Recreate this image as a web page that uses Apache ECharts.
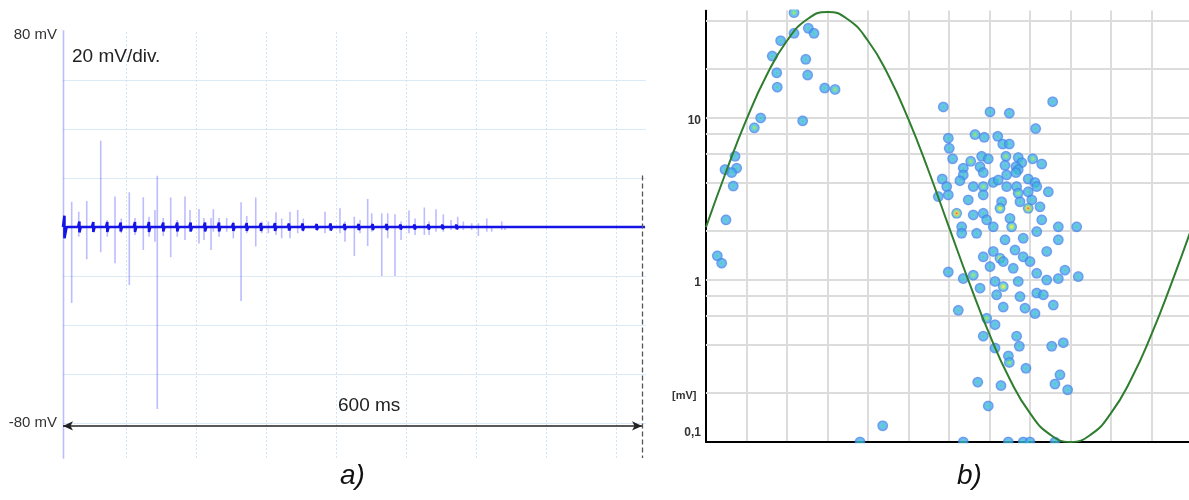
<!DOCTYPE html>
<html>
<head>
<meta charset="utf-8">
<script src="https://cdn.jsdelivr.net/npm/echarts@6/dist/echarts.min.js"></script>
<style>
  html, body { margin: 0; padding: 0; background: #fff; }
  #chart { width: 1189px; height: 500px; }
</style>
</head>
<body>
<div id="chart"></div>
<script>
// ---- a) discharge pulse train (time in ms, voltage in mV) ----
const spikeMs = [0.5, 9.0, 16.3, 24.6, 39.1, 45.9, 53.9, 60.4, 68.7, 74.6, 83.2, 89.1, 95.3, 97.7, 103.9, 111.6, 118.4, 126.4, 131.6, 140.9, 146.1, 153.4, 155.8, 161.7, 169.6, 176.5, 184.5, 190.4, 199.7, 205.9, 212.8, 220.7, 226.6, 235.2, 243.2, 249.0, 271.5, 287.0, 292.2, 301.9, 307.8, 315.7, 319.9, 330.3, 336.5, 344.0, 350.3, 358.5, 364.8, 374.4, 379.3, 386.5, 394.1, 402.1, 409.0, 414.8, 423.5, 430.4, 439.1, 444.2, 454.6, 458.0];
const spikeTopMv = [100, 10.3, 6.2, 10.6, 35.2, 2.9, 12.4, 3.5, 14.2, 3.7, 12.1, 4.2, 6.9, 20.9, 3.7, 12.0, 2.9, 12.4, 6.9, 7.3, 3.7, 3.7, 7.2, 3.7, 3.7, 2.2, 10.1, 4.5, 12.0, 2.2, 2.2, 6.0, 3.5, 6.2, 6.9, 3.5, 6.2, 7.6, 2.2, 4.2, 2.9, 11.4, 5.6, 5.6, 5.6, 5.2, 2.2, 6.7, 3.5, 8.0, 2.2, 7.2, 5.2, 2.9, 4.2, 2.2, 1.5, 1.5, 3.5, 0.8, 2.2, 0.8];
const spikeBottomMv = [-100, -31, -4, -13.2, -10.3, -4, -14.8, -2.6, -23.7, -3.3, -9.4, -4, -6, -74.3, -3.7, -12.4, -4, -5.3, -1.9, -6.7, -5.3, -9.4, -1.9, -4, -1.9, -4.6, -30.2, -2.6, -8, -2.6, -2.6, -3.3, -4.6, -4.6, -2.6, -1.9, -2.6, -2.6, -6, -11.8, -2.6, -7.8, -1.9, -20, -4.6, -20, -5.3, -2.6, -3.3, -3.3, -3.3, -1.9, -1.9, -1.2, -1.2, -1.2, -1.2, -3.7, -1.9, -1.9, -1.2, -1.2];
// periodic small pulses riding on the baseline
const blobMs = [1.5, 17.0, 31.4, 45.9, 59.8, 74.6, 89.1, 103.9, 118.4, 132.3, 147.2, 161.7, 176.5, 190.4, 205.2, 219.7, 234.2, 248.4, 262.9, 277.4, 291.9, 306.4, 320.9, 335.4, 349.9, 364.4, 378.9, 393.4, 407.9, 422.4, 436.9];
const blobMv = [4.6, 2.2, 2.0, 2.0, 1.8, 2.0, 2.0, 1.8, 1.8, 1.8, 1.8, 1.8, 1.6, 1.6, 1.6, 1.6, 1.4, 1.4, 1.2, 1.4, 1.2, 1.2, 1.2, 1.2, 1.0, 1.0, 1.0, 0.9, 0.9, 0.8, 0.7];
const traceEndMs = 603;
const timeGridMs = [65.3, 137.9, 210.4, 283.0, 355.5, 428.0, 500.6, 573.1];
const voltLabels = { '80': '80 mV', '-80': '-80 mV' };
const windowMs = 600;

// ---- b) phase-resolved pattern (phase in degrees, amplitude in mV) ----
const pdPhaseDeg = [65.2, 75.8, 80.0, 65.2, 55.3, 49.1, 73.9, 52.4, 75.3, 52.8,
  87.9, 95.6, 175.8, 40.5, 71.6, 35.8, 21.5, 14.1, 22.7, 179.5,
  180.2, 256.8, 210.4, 224.7, 244.2, 182.7, 199.3, 206.1, 216.1, 219.8,
  224.7, 204.2, 209.1, 196.1, 190.6, 222.2, 231.3, 233.9, 221.5, 242.0,
  248.7, 229.6, 19.0, 20.2, 14.8, 8.4, 11.6, 175.0, 178.3, 172.1,
  179.5, 179.5, 203.0, 231.3, 190.6, 188.1, 205.4, 212.8, 222.7, 229.6,
  238.7, 243.7, 198.0, 222.7, 230.1, 238.7, 253.6, 194.3, 219.0, 232.6,
  241.3, 247.4, 185.7, 198.0, 205.4, 217.8, 238.7, 225.2, 212.8, 226.4,
  207.9, 189.4, 248.7, 261.0, 274.6, 189.4, 200.5, 245.0, 221.5, 235.0,
  261.0, 252.4, 205.4, 212.8, 217.8, 228.9, 235.0, 198.0, 210.4, 220.2,
  227.6, 240.0, 245.0, 265.9, 275.8, 261.0, 252.4, 190.6, 203.0, 214.1,
  220.2, 231.3, 215.3, 232.6, 245.0, 249.9, 220.2, 236.3, 243.7, 257.3,
  186.9, 207.9, 214.1, 205.4, 230.1, 232.1, 214.1, 224.0, 224.7, 237.0,
  256.1, 264.7, 262.2, 258.5, 267.9, 201.3, 218.5, 209.1, 190.6, 223.9,
  235.0, 240.0, 258.5, 130.9, 114.1, 205.4, 216.5, 245.0, 205.4, 231.3];
const pdAmpMv = [44.7, 35.8, 33.3, 33.3, 30.0, 24.1, 23.0, 19.0, 18.4, 15.5,
  15.3, 15.0, 11.7, 10.0, 9.6, 8.7, 5.8, 4.8, 4.9, 7.5,
  6.5, 12.6, 10.9, 10.7, 8.6, 5.6, 7.9, 7.6, 7.7, 6.9,
  6.9, 5.8, 5.6, 5.4, 4.9, 5.8, 5.7, 5.3, 5.1, 5.6,
  5.2, 5.0, 4.6, 3.8, 2.35, 1.41, 1.27, 4.2, 3.77, 3.27,
  3.35, 1.12, 5.0, 4.8, 4.45, 4.1, 4.6, 4.0, 4.45, 4.6,
  4.2, 4.0, 3.77, 3.77, 3.77, 3.5, 3.5, 3.12, 3.04, 3.04,
  3.12, 2.83, 2.58, 2.52, 2.58, 2.77, 2.77, 2.4, 2.13, 2.13,
  2.35, 2.13, 2.35, 2.13, 2.13, 1.94, 1.94, 1.99, 1.77, 1.81,
  1.77, 1.5, 1.39, 1.5, 1.36, 1.53, 1.39, 1.07, 1.21, 1.3,
  1.18, 1.3, 1.1, 1.15, 1.05, 1.02, 1.0, 1.02, 0.89, 0.98,
  0.91, 0.98, 0.81, 0.79, 0.83, 0.81, 0.68, 0.67, 0.62, 0.70,
  0.65, 0.58, 0.53, 0.45, 0.45, 0.39, 0.38, 0.34, 0.31, 0.285,
  0.39, 0.41, 0.26, 0.228, 0.21, 0.234, 0.223, 0.167, 0.1, 0.1,
  0.1, 0.1, 0.1, 0.126, 0.1, 3.77, 4.14, 3.77, 3.35, 3.43];
// pulse density at each point: 0 single, 1 low, 2 medium, 3 high
const pdLevel = [1, 0, 0, 0, 0, 0, 0, 0, 0, 0,
  0, 1, 0, 0, 0, 1, 0, 0, 0, 0,
  0, 0, 0, 0, 0, 0, 1, 0, 0, 0,
  0, 0, 0, 1, 0, 1, 0, 0, 0, 1,
  0, 0, 0, 0, 0, 0, 0, 0, 0, 0,
  0, 0, 0, 0, 0, 0, 0, 0, 0, 0,
  0, 0, 0, 0, 0, 0, 0, 0, 0, 0,
  0, 0, 3, 0, 0, 2, 3, 0, 0, 2,
  0, 0, 0, 0, 0, 0, 0, 0, 0, 0,
  0, 0, 0, 0, 2, 0, 0, 1, 0, 0,
  0, 0, 0, 0, 0, 0, 0, 0, 0, 0,
  2, 0, 0, 0, 0, 0, 0, 0, 0, 0,
  0, 1, 0, 0, 0, 0, 0, 0, 1, 0,
  0, 0, 0, 0, 0, 0, 0, 0, 0, 0,
  0, 0, 0, 0, 0, 1, 0, 0, 0, 1];
// supply voltage reference wave, sampled every 15 degrees
const sinePhaseDeg = [0, 15, 30, 45, 60, 75, 90, 105, 120, 135, 150, 165, 180, 195, 210, 225, 240, 255, 270, 285, 300, 315, 330, 345, 360];
const sineMv = [2.12, 4.69, 9.79, 18.44, 29.97, 40.67, 45.12, 40.67, 29.97, 18.44, 9.79, 4.69, 2.12, 0.963, 0.461, 0.2447, 0.1506, 0.1110, 0.1000, 0.1110, 0.1506, 0.2447, 0.461, 0.963, 2.12];
const ampGridMv = [0.2, 0.4, 0.6, 0.8, 1, 2, 4, 6, 8, 10, 20, 40];
const ampLabels = [[0.1, '{lo|0,1}'], [1, '{mid|1}'], [10, '{mid|10}']];

const FONT = '"Liberation Sans", Arial, sans-serif';

// build the trace of the pulse train: each pulse is a vertical stroke through zero
const spikeLine = [];
spikeMs.forEach((t, i) => {
  spikeLine.push([t, 0], [t, spikeTopMv[i]], [t, spikeBottomMv[i]], [t, 0]);
});
const baseLine = [[0, 0]];
blobMs.forEach((t, i) => {
  const hw = i === 0 ? 2.2 : 1.4;
  baseLine.push([t - hw, 0], [t, blobMv[i]], [t, -blobMv[i]], [t + hw, 0]);
});
baseLine.push([traceEndMs, 0]);

function dotFill(level) {
  const stops = [
    [[0, '#2eb2a6'], [0.3, '#3cc2d6'], [0.62, '#47a6ee'], [0.85, '#3f82e6'], [1, 'rgba(70,120,230,0.65)']],
    [[0, '#96e040'], [0.3, '#56d49a'], [0.62, '#46b0ec'], [0.85, '#3f82e6'], [1, 'rgba(70,120,230,0.65)']],
    [[0, '#f0ec34'], [0.3, '#a4e44a'], [0.62, '#48bce6'], [0.85, '#3f82e6'], [1, 'rgba(70,120,230,0.65)']],
    [[0, '#e4301c'], [0.28, '#eec436'], [0.58, '#64d48c'], [0.85, '#4088e6'], [1, 'rgba(70,120,230,0.65)']]
  ][level];
  return {
    type: 'radial', x: 0.5, y: 0.5, r: 0.5,
    colorStops: stops.map(s => ({ offset: s[0], color: s[1] }))
  };
}
const pdData = pdPhaseDeg.map((p, i) => ({
  value: [p, pdAmpMv[i]],
  itemStyle: { color: dotFill(pdLevel[i]) }
}));
const sineData = sinePhaseDeg.map((p, i) => [p, sineMv[i]]);

const chart = echarts.init(document.getElementById('chart'));
chart.setOption({
  animation: false,
  textStyle: { fontFamily: FONT },
  grid: [
    { left: 63, top: 31, width: 583, height: 427 },
    { left: 706, top: 10.6, width: 483, height: 431.4 }
  ],
  xAxis: [
    {
      gridIndex: 0, type: 'value', min: 0, max: 604.1,
      axisLine: { show: false }, axisTick: { show: false },
      axisLabel: { show: false }, splitLine: { show: false }
    },
    {
      gridIndex: 1, type: 'value', min: 0, max: 357.8, interval: 30,
      axisLine: { show: true, onZero: false, lineStyle: { color: '#000', width: 2 } },
      axisTick: { show: false }, axisLabel: { show: false },
      splitLine: { show: true, showMinLine: false, showMaxLine: false,
        lineStyle: { color: '#dcdcdc', width: 2 } }
    }
  ],
  yAxis: [
    {
      gridIndex: 0, type: 'value', min: -94.3, max: 80, splitNumber: 9,
      axisLine: { show: false }, axisTick: { show: false },
      axisLabel: {
        show: true, margin: 6, color: '#333', fontSize: 15, fontFamily: FONT,
        formatter: v => {
          const k = String(Math.round(v));
          if (Math.abs(v - Math.round(v)) > 1e-6 || !voltLabels[k]) return '';
          return v > 0 ? '{top|' + voltLabels[k] + '}' : voltLabels[k];
        },
        rich: { top: { fontSize: 15, color: '#333', fontFamily: FONT, padding: [8, 0, 0, 0] } }
      },
      splitLine: { show: true, showMinLine: false, showMaxLine: false,
        lineStyle: { color: '#dce9f6', width: 1 } }
    },
    {
      gridIndex: 1, type: 'log', logBase: 10, min: 0.1, max: 46,
      axisLine: { show: true, onZero: false, lineStyle: { color: '#000', width: 2 } },
      axisTick: { show: false },
      axisLabel: {
        show: true, margin: 5, color: '#333', fontWeight: 'bold', fontSize: 12,
        formatter: v => {
          const hit = ampLabels.find(a => Math.abs(v - a[0]) < 1e-6 * a[0] + 1e-9);
          return hit ? hit[1] : '';
        },
        rich: {
          lo: { fontWeight: 'bold', fontSize: 12, color: '#333', padding: [0, 0, 18, 0] },
          mid: { fontWeight: 'bold', fontSize: 12, color: '#333', padding: [6, 0, 0, 0] }
        }
      },
      splitLine: { show: false }
    }
  ],
  series: [
    // time grid of the oscilloscope view
    {
      type: 'line', xAxisIndex: 0, yAxisIndex: 0, z: 1, silent: true,
      data: [[0, 0]], showSymbol: false, lineStyle: { opacity: 0 },
      markLine: {
        silent: true, symbol: 'none', z: 1, label: { show: false },
        lineStyle: { color: '#d2e3f4', width: 1, type: [2, 2] },
        data: timeGridMs.map(t => ({ xAxis: t }))
      }
    },
    {
      name: 'pulses', type: 'line', xAxisIndex: 0, yAxisIndex: 0, z: 2,
      data: spikeLine, showSymbol: false, clip: true,
      lineStyle: { color: 'rgba(95,95,255,0.42)', width: 1.6 }
    },
    {
      name: 'baseline', type: 'line', xAxisIndex: 0, yAxisIndex: 0, z: 3,
      data: baseLine, showSymbol: false, clip: true,
      lineStyle: { color: '#1414e6', width: 2.6 },
      markLine: {
        silent: true, z: 4, label: { show: false },
        data: [
          [
            { coord: [0, -81.2], symbol: 'arrow', symbolSize: [7, 10],
              lineStyle: { color: '#222', width: 1.6, type: 'solid' } },
            { coord: [windowMs, -81.2], symbol: 'arrow', symbolSize: [7, 10] }
          ],
          [
            { coord: [windowMs, 21], symbol: 'none',
              lineStyle: { color: '#555', width: 1.3, type: [5, 3] } },
            { coord: [windowMs, -94.3], symbol: 'none' }
          ]
        ]
      }
    },
    // amplitude grid of the pattern view
    {
      type: 'line', xAxisIndex: 1, yAxisIndex: 1, z: 1, silent: true,
      data: [[0, 1]], showSymbol: false, lineStyle: { opacity: 0 },
      markLine: {
        silent: true, symbol: 'none', z: 1, label: { show: false },
        lineStyle: { color: '#dcdcdc', width: 2, type: 'solid' },
        data: ampGridMv.map(v => ({ yAxis: v }))
      }
    },
    {
      name: 'discharges', type: 'scatter', xAxisIndex: 1, yAxisIndex: 1, z: 3,
      symbol: 'circle', symbolSize: 11, data: pdData
    },
    {
      name: 'supply voltage', type: 'line', xAxisIndex: 1, yAxisIndex: 1, z: 4,
      data: sineData, smooth: 0.5, showSymbol: false, clip: true,
      lineStyle: { color: '#2f7d2f', width: 2 }
    }
  ],
  graphic: [
    { type: 'rect', z: 100, shape: { x: 700, y: 0, width: 489, height: 9.6 }, style: { fill: '#fff' } },
    { type: 'rect', z: 100, shape: { x: 700, y: 443.2, width: 489, height: 16 }, style: { fill: '#fff' } },
    { type: 'text', z: 101, left: 72, top: 47, style: { text: '20 mV/div.', font: '19px ' + FONT, fill: '#222' } },
    { type: 'text', z: 101, left: 338, top: 396, style: { text: '600 ms', font: '19px ' + FONT, fill: '#222' } },
    { type: 'text', z: 101, left: 672, top: 390, style: { text: '[mV]', font: 'bold 11px ' + FONT, fill: '#333' } },
    { type: 'text', z: 101, left: 340, top: 462, style: { text: 'a)', font: 'italic 28px ' + FONT, fill: '#111' } },
    { type: 'text', z: 101, left: 957, top: 462, style: { text: 'b)', font: 'italic 28px ' + FONT, fill: '#111' } }
  ]
});
</script>
</body>
</html>
